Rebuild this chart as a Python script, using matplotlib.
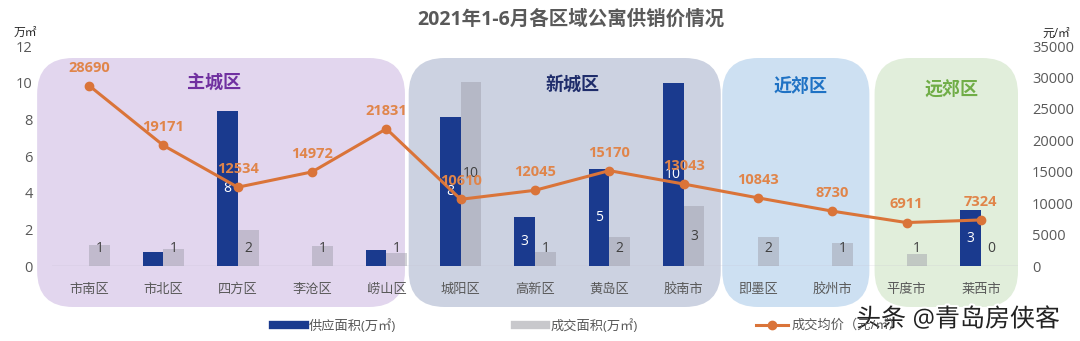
import numpy as np
import matplotlib
matplotlib.use("Agg")
import matplotlib.pyplot as plt
from matplotlib.patches import FancyBboxPatch
from matplotlib.lines import Line2D
import matplotlib.patheffects as pe

plt.rcParams["font.family"] = ["Open Sans", "Noto Sans CJK SC", "DejaVu Sans"]

# =============================================================================
# Data
# =============================================================================

districts = ["市南区", "市北区", "四方区", "李沧区", "崂山区", "城阳区", "高新区",
             "黄岛区", "胶南市", "即墨区", "胶州市", "平度市", "莱西市"]
supply = [0, 0.75, 8.45, 0, 0.85, 8.15, 2.65, 5.3, 10.0, 0, 0, 0, 3.05]
deal = [1.15, 0.95, 1.95, 1.08, 0.7, 10.05, 0.75, 1.6, 3.25, 1.6, 1.25, 0.68, 0]
price = [28690, 19171, 12534, 14972, 21831, 10610, 12045, 15170, 13043,
         10843, 8730, 6911, 7324]

# region name, fill colour, text colour
regions = [
    ("主城区", "#e2d6ee", "#7030a0"),
    ("新城区", "#ccd2e1", "#1f2d6b"),
    ("近郊区", "#cde0f2", "#1f72c4"),
    ("远郊区", "#e1eedb", "#70ad47"),
]

SUPPLY_COLOR = "#1a3a8e"
DEAL_COLOR = "#9a9aa6"
LINE_COLOR = "#da7439"
TEXT_GRAY = "#595959"

# =============================================================================
# Figure
# =============================================================================

W, H = 1080, 341
fig = plt.figure(figsize=(W / 100, H / 100), dpi=100)

# background axes in pixel units for the rounded region boxes
bg = fig.add_axes([0, 0, 1, 1])
bg.set_xlim(0, W)
bg.set_ylim(H, 0)
bg.axis("off")

ax = fig.add_axes([52 / W, 1 - 266 / H, (1018 - 52) / W, (266 - 46) / H])
ax.patch.set_alpha(0)
ax2 = ax.twinx()

x = np.arange(len(districts))
ax.set_xlim(-0.5, len(districts) - 0.5)
ax.set_ylim(0, 12)
ax2.set_ylim(0, 35000)

# region boxes (edges in category units) and label positions
box_edges = [(-0.7, 4.25), (4.3, 8.5), (8.52, 10.5), (10.57, 12.5)]
label_pos = [(1.68, 83), (6.5, 86), (9.58, 87), (11.6, 91)]
for (name, fc, tc), (xl, xr), (lx, ly) in zip(regions, box_edges, label_pos):
    px_l = ax.transData.transform((xl, 0))[0]
    px_r = ax.transData.transform((xr, 0))[0]
    box = FancyBboxPatch((px_l, 58), px_r - px_l, 307 - 58,
                         boxstyle="round,pad=0,rounding_size=36",
                         fc=fc, ec="none", zorder=0)
    bg.add_patch(box)
    cx = ax.transData.transform((lx, 0))[0]
    bg.text(cx, ly, name, color=tc, fontsize=13, fontweight="bold",
            ha="center", va="center", zorder=1)

# bars
bw = 0.28
ax.bar(x - bw / 2, supply, width=bw, color=SUPPLY_COLOR, zorder=2)
ax.bar(x + bw / 2, deal, width=bw, color=DEAL_COLOR, alpha=0.45, zorder=2)
ax.axhline(0, color="#c4bfd0", lw=1, zorder=1)

for i, v in enumerate(supply):
    if v >= 1:
        ax.text(i - bw / 2, v / 2, f"{v:.0f}", color="white", fontsize=10,
                ha="center", va="center", zorder=3)
for i, v in enumerate(deal):
    ax.text(i + bw / 2, max(v / 2, 0.95), f"{v:.0f}", color="#404040",
            fontsize=10, ha="center", va="center", zorder=3)

# price line
ax2.plot(x, price, color=LINE_COLOR, lw=2.2, marker="o", ms=6, zorder=4)
for i, p in enumerate(price):
    ax2.annotate(f"{p}", (i, p), xytext=(0, 8), textcoords="offset points",
                 ha="center", va="bottom", color="#e0854a", fontsize=10.5,
                 fontweight="bold", zorder=5)

# axes styling
for a in (ax, ax2):
    for s in a.spines.values():
        s.set_visible(False)
    a.tick_params(length=0, colors=TEXT_GRAY)
ax.set_xticks(x, districts, fontsize=9.5, color=TEXT_GRAY)
ax.tick_params(axis="x", pad=12)
ax.set_yticks(np.arange(0, 13, 2))
ax.tick_params(axis="y", labelsize=10.5, pad=14)
ax2.set_yticks(np.arange(0, 35001, 5000))
ax2.tick_params(axis="y", labelsize=10.5, pad=10)

# titles and units
fig.text(571 / W, 1 - 20 / H, "2021年1-6月各区域公寓供销价情况", ha="center",
         va="center", fontsize=14, fontweight="bold", color=TEXT_GRAY)
fig.text(25 / W, 1 - 32 / H, "万㎡", ha="center", va="center", fontsize=8.5,
         color="#262626")
fig.text(1056 / W, 1 - 33 / H, "元/㎡", ha="center", va="center", fontsize=8.5,
         color="#262626")

# legend
handles = [
    Line2D([], [], color=SUPPLY_COLOR, lw=6),
    Line2D([], [], color="#c8c8cc", lw=6),
    Line2D([], [], color=LINE_COLOR, lw=2.2, marker="o", ms=6),
]
labels = ["供应面积(万㎡)", "成交面积(万㎡)", "成交均价（元/㎡）"]
leg = fig.legend(handles, labels, loc="center", bbox_to_anchor=(588 / W, 1 - 326 / H),
                 ncol=3, frameon=False, fontsize=9.5, handlelength=2.4,
                 columnspacing=9.0, handletextpad=0.3)
for t in leg.get_texts():
    t.set_color(TEXT_GRAY)

# watermark caption
fig.text(958 / W, 1 - 320 / H, "头条 @青岛房侠客", ha="center", va="center",
         fontsize=18, color="#222222",
         path_effects=[pe.withStroke(linewidth=3, foreground="white")])

fig.savefig("out.png", dpi=100)
